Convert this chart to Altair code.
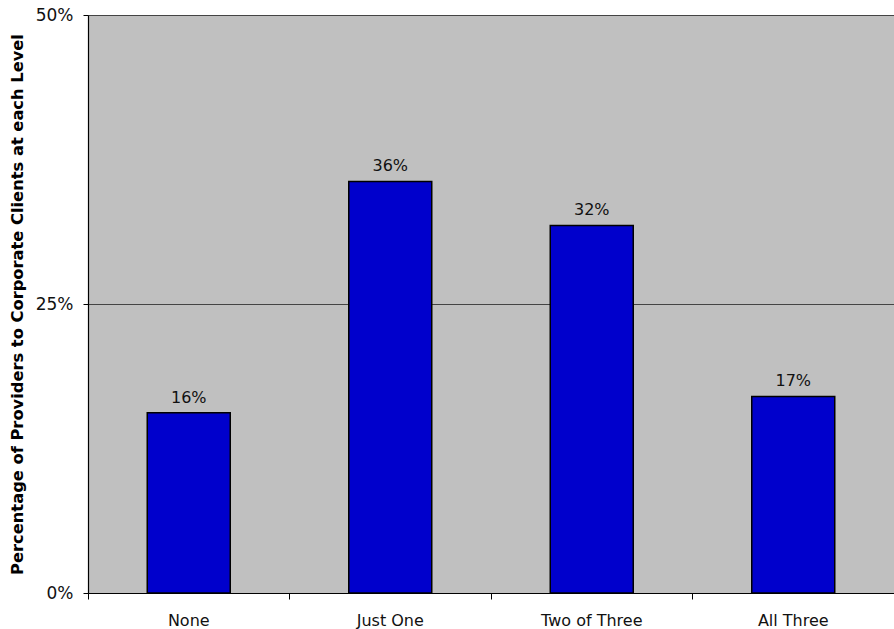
import altair as alt
import pandas as pd

categories = ["None", "Just One", "Two of Three", "All Three"]
values = [0.156, 0.356, 0.318, 0.170]
labels = ["16%", "36%", "32%", "17%"]

df = pd.DataFrame({"cat": categories, "val": values, "lab": labels})

x = alt.X("cat:N", sort=categories, title=None,
          scale=alt.Scale(paddingInner=0, paddingOuter=0),
          axis=alt.Axis(labelAngle=0, labelFont="DejaVu Sans", labelFontSize=16,
                        labelColor="#111111", labelPadding=13, bandPosition=0,
                        tickColor="#000000", tickSize=6, domainColor="#000000",
                        domainWidth=1.2, grid=False))

y = alt.Y("val:Q", scale=alt.Scale(domain=[0, 0.5], nice=False),
          axis=alt.Axis(values=[0, 0.25, 0.5], format=".0%",
                        title="Percentage of Providers to Corporate Clients at each Level",
                        titleFont="DejaVu Sans", titleFontSize=16.3, titleFontWeight="bold",
                        titleColor="#000000", titleX=-71, titleY=289,
                        titleAngle=270, titleAlign="center", titleBaseline="middle",
                        labelFont="DejaVu Sans", labelFontSize=17, labelColor="#111111",
                        labelPadding=10,
                        tickColor="#000000", tickSize=5, domainColor="#000000",
                        domainWidth=1.2, gridColor="#444444", gridWidth=1.2,
                        gridOpacity=1))

bars = alt.Chart(df).mark_bar(size=83, color="#0000CC", stroke="#000000",
                               strokeWidth=1.5).encode(x=x, y=y)

text = alt.Chart(df).mark_text(dy=-7, font="DejaVu Sans", fontSize=16,
                                color="#111111", baseline="bottom").encode(
    x=alt.X("cat:N", sort=categories), y="val:Q", text="lab:N")

chart = (bars + text).properties(
    width=806, height=578,
    autosize=alt.AutoSizeParams(type="none"),
    padding={"left": 88, "top": 15, "right": 0, "bottom": 36},
    background="#FFFFFF",
).configure_view(fill="#C0C0C0", stroke=None)

chart.save("out.html", embed_options={"renderer": "svg", "actions": False})
